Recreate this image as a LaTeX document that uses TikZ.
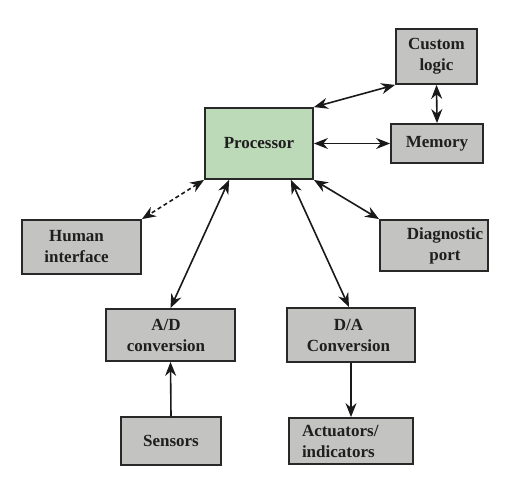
\documentclass[tikz,border=0pt]{standalone}
\usepackage{fontspec}
\setmainfont{Liberation Serif}
\usetikzlibrary{arrows.meta}
\definecolor{boxgray}{RGB}{195,196,193}
\definecolor{procgreen}{RGB}{188,218,184}
\definecolor{edgegray}{RGB}{40,40,40}
\tikzset{
  blk/.style={draw=edgegray, line width=1.8pt, fill=boxgray, text=black!88, font=\fontsize{17}{21}\selectfont\bfseries, align=center, inner sep=0pt},
  link/.style={line width=1.6pt, black!90, {Stealth[length=14pt,width=11pt]}-{Stealth[length=14pt,width=11pt]}},
  feed/.style={line width=1.6pt, black!90, -{Stealth[length=14pt,width=11pt]}}
}
\begin{document}
\begin{tikzpicture}[x=1pt,y=1pt]
\useasboundingbox (0,0) rectangle (530,499);
% boxes
\node[blk, fill=procgreen, minimum width=108pt, minimum height=71pt] (proc) at (259,355.5) {Processor};
\node[blk, minimum width=81pt, minimum height=55pt] (custom) at (436.5,442.5) {Custom\\logic};
\node[blk, minimum width=92pt, minimum height=39pt] (memory) at (437,355.5) {Memory};
\node[blk, minimum width=119pt, minimum height=54pt] (human) at (81.5,252) {Human\hspace*{10pt}\\interface\hspace*{10pt}};
\node[blk, minimum width=108pt, minimum height=51pt] (diag) at (434,253.5) {\hspace*{22pt}Diagnostic\\\hspace*{22pt}port};
\node[blk, minimum width=129pt, minimum height=52pt] (ad) at (170.5,164) {A/D\hspace*{9pt}\\conversion\hspace*{9pt}};
\node[blk, minimum width=128pt, minimum height=54pt] (da) at (351,164) {D/A\hspace*{5pt}\\Conversion\hspace*{5pt}};
\node[blk, minimum width=100pt, minimum height=48pt] (sensors) at (171,58) {Sensors};
\node[blk, align=left, text width=98pt, minimum width=124pt, minimum height=46pt] (act) at (351,58) {Actuators/\\indicators};
% connectors
\draw[link] (proc.east) -- (memory.west);
\draw[link] (proc.north east) -- (custom.south west);
\draw[link] (custom.south) -- (memory.north);
\draw[link, dash pattern=on 4pt off 3pt] (proc.south west) -- (human.north east);
\draw[link] ([xshift=25pt]proc.south west) -- (ad.north);
\draw[link] ([xshift=-23pt]proc.south east) -- ([xshift=-2pt]da.north);
\draw[link] (proc.south east) -- (diag.north west);
\draw[feed] (sensors.north) -- (ad.south);
\draw[feed] (da.south) -- (act.north);
\end{tikzpicture}
\end{document}
